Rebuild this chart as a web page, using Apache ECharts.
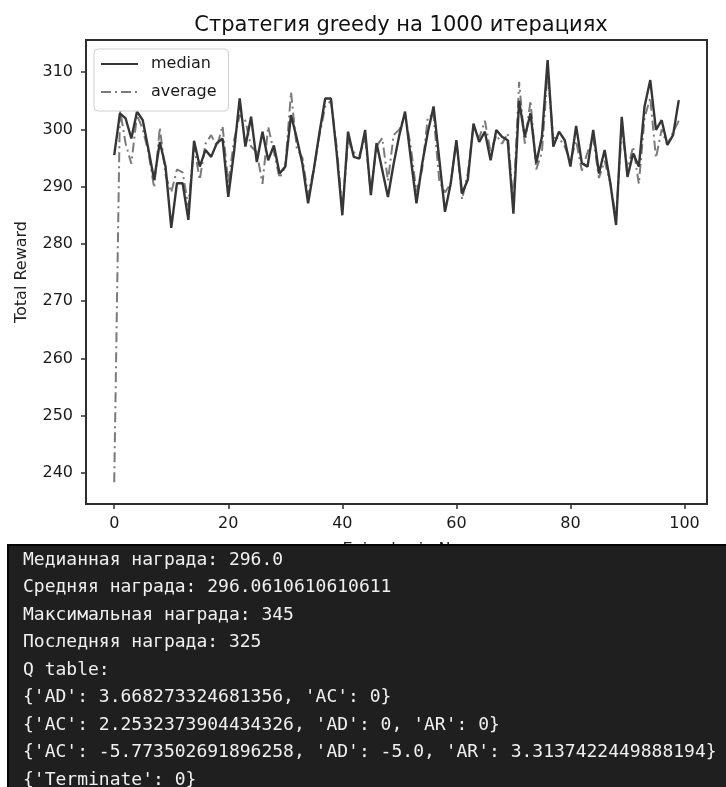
<!DOCTYPE html>
<html>
<head>
<meta charset="utf-8">
<title>greedy</title>
<script src="https://cdn.jsdelivr.net/npm/echarts@6/dist/echarts.min.js"></script>
<style>
  html, body { margin: 0; padding: 0; background: #fff; }
  #chart { width: 726px; height: 787px; }
</style>
</head>
<body>
<div id="chart"></div>
<script>
// episodes 0..99
var episodes = Array.from({ length: 100 }, function (_, i) { return i })

var median = [
  295.5, 302.8, 301.9, 298.4, 303.1, 301.6, 296.5, 291.2, 297.8, 293.5,
  282.8, 290.6, 290.6, 284.2, 298.0, 293.5, 296.4, 295.2, 297.6, 298.4,
  288.2, 296.0, 305.4, 297.0, 302.2, 294.3, 299.6, 294.6, 297.2, 292.3,
  293.5, 302.5, 298.5, 294.0, 287.1, 293.0, 299.5, 305.4, 305.4, 296.0,
  285.0, 299.6, 295.2, 294.9, 299.9, 288.5, 297.6, 292.9, 288.2, 294.0,
  299.0, 303.1, 295.0, 287.1, 294.0, 299.5, 304.0, 294.8, 285.6, 290.5,
  298.1, 288.8, 291.2, 301.0, 297.8, 299.6, 294.6, 299.9, 298.7, 298.1,
  285.3, 305.0, 298.7, 302.8, 294.1, 298.7, 312.1, 297.0, 299.6, 298.1,
  293.5, 300.6, 294.1, 293.5, 299.9, 292.3, 296.4, 290.6, 283.3, 302.2,
  291.7, 295.8, 293.5, 304.0, 308.6, 299.9, 301.6, 297.3, 299.0, 305.1
]

var average = [
  238.4, 303.5, 297.5, 294.0, 302.5, 300.0, 296.0, 289.8, 300.3, 292.0,
  289.0, 293.0, 292.5, 286.5, 297.0, 291.2, 297.5, 299.0, 297.0, 300.6,
  290.5, 298.0, 302.5, 301.5, 297.0, 296.0, 290.5, 300.5, 296.0, 291.5,
  293.5, 306.5, 296.8, 295.0, 288.5, 293.0, 299.0, 304.0, 305.0, 297.0,
  286.0, 298.0, 296.0, 295.5, 298.5, 289.0, 297.0, 298.5, 291.0, 299.0,
  300.0, 302.5, 297.0, 289.0, 293.0, 302.2, 302.5, 291.0, 289.0, 290.5,
  298.1, 287.8, 292.3, 300.5, 298.5, 301.5, 296.0, 299.0, 297.5, 299.3,
  287.0, 308.3, 297.5, 305.0, 293.0, 296.0, 310.0, 298.5, 298.5, 297.0,
  294.5, 298.0, 292.8, 296.0, 298.5, 291.5, 294.5, 290.6, 284.5, 300.0,
  293.0, 297.0, 290.5, 302.0, 305.5, 295.0, 300.0, 297.3, 299.5, 301.5
]

var xTicks = [0, 20, 40, 60, 80, 100]
var yTicks = [240, 250, 260, 270, 280, 290, 300, 310]

var consoleLines = [
  'Медианная награда: 296.0',
  'Средняя награда: 296.0610610610611',
  'Максимальная награда: 345',
  'Последняя награда: 325',
  'Q table:',
  "{'AD': 3.668273324681356, 'AC': 0}",
  "{'AC': 2.2532373904434326, 'AD': 0, 'AR': 0}",
  "{'AC': -5.773502691896258, 'AD': -5.0, 'AR': 3.3137422449888194}",
  "{'Terminate': 0}"
]

var FONT = 'DejaVu Sans'

function pairs(values) {
  return episodes.map(function (x, i) { return [x, values[i]] })
}

var chart = echarts.init(document.getElementById('chart'))

// dark console panel under the plot
var graphics = [
  {
    type: 'rect',
    z: 100,
    shape: { x: 8, y: 545, width: 730, height: 250 },
    style: { fill: '#1f1f1f', stroke: '#050505', lineWidth: 2 }
  }
]
consoleLines.forEach(function (line, i) {
  graphics.push({
    type: 'text',
    z: 101,
    x: 23,
    y: 560 + i * 27.5,
    style: {
      text: line,
      fill: '#f0f0f0',
      font: '18px "DejaVu Sans Mono", "Liberation Mono", monospace',
      verticalAlign: 'middle'
    }
  })
})

chart.setOption({
  backgroundColor: '#fff',
  animation: false,
  textStyle: { fontFamily: FONT },
  title: {
    text: 'Стратегия greedy на 1000 итерациях',
    left: 396,
    top: 10,
    textAlign: 'center',
    textStyle: { fontFamily: FONT, fontSize: 21, fontWeight: 'normal', color: '#111' }
  },
  legend: {
    orient: 'vertical',
    left: 94,
    top: 49,
    padding: [7, 12, 11, 6],
    itemWidth: 37,
    itemHeight: 14,
    itemGap: 12,
    backgroundColor: '#fff',
    borderColor: '#cfcfcf',
    borderWidth: 1,
    borderRadius: 4,
    itemStyle: { opacity: 0 },
    textStyle: { fontFamily: FONT, fontSize: 16, color: '#1a1a1a', padding: [0, 0, 0, 8] },
    data: ['median', 'average']
  },
  grid: {
    left: 86,
    top: 40,
    right: 19,
    bottom: 283,
    show: true,
    borderColor: '#2e2e2e',
    borderWidth: 2
  },
  xAxis: {
    type: 'value',
    min: -4.95,
    max: 103.95,
    name: 'Episodes in N',
    nameLocation: 'middle',
    nameGap: 38,
    nameTextStyle: { fontFamily: FONT, fontSize: 16, color: '#222' },
    axisLine: { show: false, onZero: false },
    axisTick: { show: true, length: 5, lineStyle: { color: '#2e2e2e', width: 1.5 }, customValues: xTicks },
    axisLabel: { fontFamily: FONT, fontSize: 16, color: '#1a1a1a', margin: 12, customValues: xTicks },
    splitLine: { show: false }
  },
  yAxis: {
    type: 'value',
    min: 234.6,
    max: 315.6,
    name: 'Total Reward',
    nameLocation: 'middle',
    nameGap: 56,
    nameTextStyle: { fontFamily: FONT, fontSize: 16, color: '#222' },
    axisLine: { show: false, onZero: false },
    axisTick: { show: true, length: 5, lineStyle: { color: '#2e2e2e', width: 1.5 }, customValues: yTicks },
    axisLabel: { fontFamily: FONT, fontSize: 16, color: '#1a1a1a', margin: 13, customValues: yTicks },
    splitLine: { show: false }
  },
  series: [
    {
      name: 'median',
      type: 'line',
      data: pairs(median),
      symbol: 'none',
      lineStyle: { color: '#363636', width: 2.4 },
      itemStyle: { color: '#363636' },
      z: 3
    },
    {
      name: 'average',
      type: 'line',
      data: pairs(average),
      symbol: 'none',
      lineStyle: { color: '#7a7a7a', width: 2, type: [10, 4, 2, 4] },
      itemStyle: { color: '#7a7a7a' },
      z: 2
    }
  ],
  graphic: { elements: graphics }
})
</script>
</body>
</html>
